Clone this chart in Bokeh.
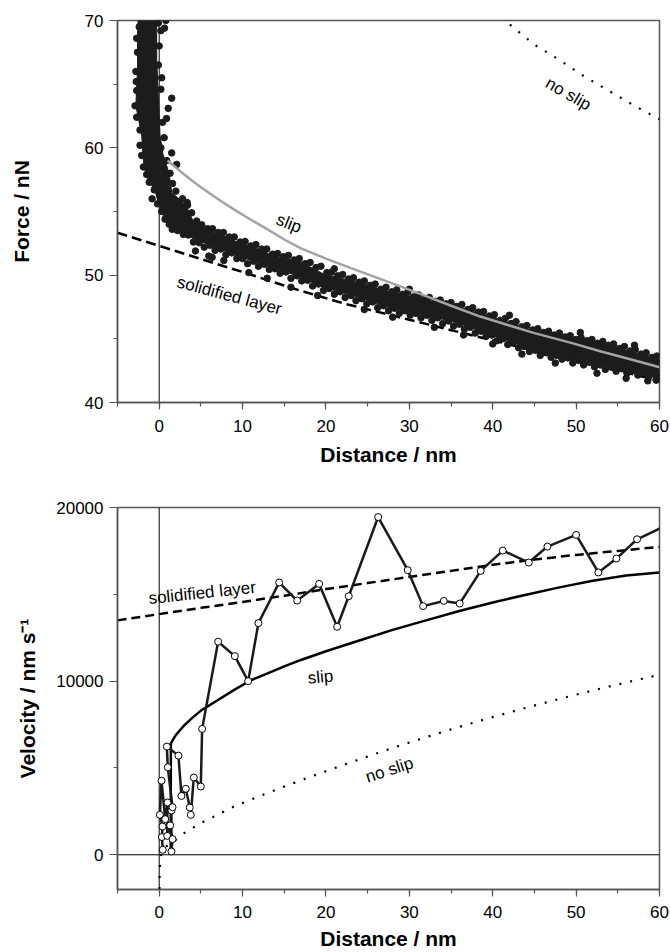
from bokeh.plotting import figure
from bokeh.layouts import column
from bokeh.models import Range1d, Span, SingleIntervalTicker, BasicTickFormatter
from bokeh.embed import file_html
from bokeh.resources import INLINE
from bokeh.core.properties import value

FONT = "Liberation Sans"

# ---------------- data: force vs distance (top panel) ----------------
# outline of the dense core of the measured force cloud
cloud_core_x = [-2.5, -2.6, -2.6, -2.8, -2.1, -1.9, -1.7, -1.3, -0.5, -0.1, 0.6, 1.4, 3.2, 4.0,
                5.75, 7.35, 9.35, 11.35, 13.75, 16.9, 19.7, 23.7, 27.7, 31.7, 35.8, 38.5, 45.3,
                53.3, 60.0, 60.0, 59.7, 53.3, 45.3, 38.5, 35.8, 31.7, 27.7, 23.7, 19.7, 16.9,
                13.75, 11.35, 9.35, 7.35, 5.75, 4.0, 3.2, 1.5, 1.3, 1.0, 0.45, 0.1, -0.1, -0.3, -0.3]
cloud_core_f = [70.6, 68.8, 66.3, 63.3, 61.0, 59.0, 58.2, 57.5, 56.6, 55.7, 54.5, 54.0, 53.25, 52.9,
                52.45, 52.05, 51.5, 51.1, 50.6, 49.85, 49.05, 48.3, 47.45, 46.9, 46.25, 45.6, 44.05,
                42.9, 42.1, 43.35, 43.4, 44.6, 45.55, 47.0, 47.5, 48.1, 48.7, 49.45, 50.1, 51.05,
                51.5, 52.2, 52.6, 53.2, 53.5, 54.35, 55.5, 56.5, 57.5, 58.4, 59.5, 61.0, 64.0, 67.0, 70.6]

# individual measured points at the fringes of the cloud
force_x = [
    # near-contact steep part, left / lower fringe
    -2.9, -2.7, -2.8, -2.6, -2.7, -2.4, -2.75, -2.7, -2.3, -2.3, -2.1, -1.9, -1.5, -1.2,
    -0.85, -0.6, -0.2, 0.3, 0.7, 1.2, 1.56, 1.9,
    # lower fringe of the band
    2.2, 2.9, 3.5, 4.1, 4.8, 5.4, 6.1, 6.7, 7.4, 8.0, 8.7, 9.3, 10.0, 10.6, 11.3, 11.9, 12.6,
    13.2, 13.9, 14.5, 15.2, 15.8, 16.5, 17.1, 17.8, 18.4, 19.1, 19.7, 20.4, 21.0, 21.7, 22.3,
    23.0, 23.6, 24.3, 24.9, 25.6, 26.2, 26.9, 27.5, 28.2, 28.8, 29.5, 30.1, 30.8, 31.4, 32.1,
    32.7, 33.4, 34.0, 34.7, 35.3, 36.0, 36.6, 37.3, 37.9, 38.6, 39.2, 39.9, 40.5, 41.2, 41.8,
    42.5, 43.1, 43.8, 44.4, 45.1, 45.7, 46.4, 47.0, 47.7, 48.3, 49.0, 49.6, 50.3, 50.9, 51.6,
    52.2, 52.9, 53.5, 54.2, 54.8, 55.5, 56.1, 56.8, 57.4, 58.1, 58.7, 59.4, 59.9,
    # stray points below the band
    4.35, 5.95, 6.35, 7.75, 10.75, 12.95, 15.8, 19.0, 24.6, 28.0, 33.0, 36.5, 40.0, 43.5,
    47.5, 52.5, 56.0, 58.6, 59.6,
    # steep part, right / upper fringe
    -0.1, 0.2, 0.0, -0.1, 0.3, 0.2, 0.4, 0.6, 0.2, 0.9, 1.3, 1.6, 2.0, 2.8, 2.5,
    # upper fringe of the band
    3.4, 3.9, 4.5, 5.1, 5.8, 6.4, 7.1, 7.7, 8.4, 9.0, 9.7, 10.3, 11.0, 11.6, 12.3, 12.9, 13.6,
    14.2, 14.9, 15.5, 16.2, 16.8, 17.5, 18.1, 18.8, 19.4, 20.1, 20.7, 21.4, 22.0, 22.7, 23.3,
    24.0, 24.6, 25.3, 25.9, 26.6, 27.2, 27.9, 28.5, 29.2, 29.8, 30.5, 31.1, 31.8, 32.4, 33.1,
    33.7, 34.4, 35.0, 35.7, 36.3, 37.0, 37.6, 38.3, 38.9, 39.6, 40.2, 40.9, 41.5, 42.2, 42.8,
    43.5, 44.1, 44.8, 45.4, 46.1, 46.7, 47.4, 48.0, 48.7, 49.3, 50.0, 50.6, 51.3, 51.9, 52.6,
    53.2, 53.9, 54.5, 55.2, 55.8, 56.5, 57.1, 57.8, 58.4, 59.1, 59.7,
    # stray points above the band
    3.36, 2.1, 1.5, 1.5, 1.08, 0.88, 0.64, 0.8, 21.0, 30.0, 42.0, 50.5, 57.0]
force_f = [
    63.3, 64.5, 66.0, 67.5, 68.6, 69.5, 65.2, 62.4, 61.4, 60.2, 59.4, 58.5, 57.9, 57.3,
    56.0, 56.7, 55.6, 55.0, 54.4, 54.0, 53.6, 53.9,
    53.5, 53.2, 53.15, 52.6, 52.55, 52.2, 52.35, 51.95, 52.05, 51.6, 51.75, 51.3, 51.3, 50.9,
    51.1, 50.7, 50.85, 50.45, 50.5, 50.15, 50.25, 49.75, 49.95, 49.55, 49.6, 49.15, 49.3, 48.8,
    48.95, 48.5, 48.7, 48.25, 48.4, 48.0, 48.15, 47.75, 47.9, 47.45, 47.6, 47.2, 47.4, 47.0,
    47.2, 46.85, 47.0, 46.65, 46.85, 46.45, 46.65, 46.2, 46.4, 46.0, 46.15, 45.75, 45.9, 45.45,
    45.6, 45.2, 45.3, 44.85, 45.0, 44.55, 44.75, 44.3, 44.4, 44.0, 44.1, 43.7, 43.9, 43.55,
    43.7, 43.4, 43.5, 43.1, 43.3, 42.95, 43.15, 42.8, 42.95, 42.6, 42.8, 42.45, 42.65, 42.3,
    42.5, 42.15, 42.35, 42.0, 42.2, 41.95,
    51.9, 51.5, 51.4, 51.15, 50.2, 49.76, 49.05, 48.4, 47.3, 46.7, 45.9, 45.3, 44.6, 43.8,
    43.1, 42.3, 41.9, 41.7, 41.75,
    69.8, 69.2, 68.0, 66.5, 65.5, 64.6, 62.0, 60.8, 60.0, 59.0, 58.0, 57.2, 56.6, 56.0, 55.3,
    55.5, 54.9, 54.25, 53.95, 53.65, 53.65, 53.35, 53.35, 53.0, 53.0, 52.6, 52.65, 52.3, 52.4,
    52.05, 52.05, 51.65, 51.7, 51.45, 51.55, 51.2, 51.3, 50.9, 51.0, 50.6, 50.7, 50.2, 50.25,
    49.95, 50.05, 49.7, 49.8, 49.45, 49.55, 49.2, 49.3, 48.9, 49.05, 48.7, 48.85, 48.5, 48.65,
    48.3, 48.45, 48.1, 48.25, 47.95, 48.05, 47.75, 47.85, 47.55, 47.7, 47.3, 47.45, 47.1, 47.15,
    46.8, 46.9, 46.45, 46.6, 46.2, 46.35, 45.95, 46.05, 45.7, 45.8, 45.5, 45.6, 45.3, 45.45,
    45.15, 45.25, 44.95, 45.1, 44.85, 44.95, 44.65, 44.8, 44.5, 44.6, 44.25, 44.4, 44.05, 44.15,
    43.8, 43.9, 43.55, 43.65,
    55.7, 58.7, 59.6, 63.9, 63.1, 62.3, 69.4, 70.0, 50.5, 48.9, 46.85, 45.5, 44.5]

slip_x = [1.0, 2, 3, 4, 5, 6, 7.35, 9, 11, 13, 15, 17, 20, 23, 26, 29, 32, 35, 38.5, 42, 45, 49.3, 53, 56.5, 60]
slip_f = [59.0, 58.45, 57.9, 57.4, 56.9, 56.45, 55.85, 55.15, 54.35, 53.6, 52.8, 52.1, 51.3, 50.55,
          49.83, 49.1, 48.35, 47.6, 46.75, 46.05, 45.45, 44.7, 44.0, 43.4, 42.77]

noslip_x = [40, 42, 45, 48, 51, 54, 57, 60]
noslip_f = [70.75, 69.7, 68.1, 66.9, 65.6, 64.45, 63.3, 62.25]

solid_x = [-5, 0, 5, 10, 16, 22, 30, 38, 45, 52, 60]
solid_f = [53.33, 52.3, 51.27, 50.25, 48.97, 47.8, 46.5, 45.2, 44.08, 42.95, 41.73]

# ---------------- data: velocity vs distance (bottom panel) ----------------
vel_x = [0.43, 0.32, 0.40, 0.08, 0.28, 0.72, 1.0, 0.96, 1.32, 1.6, 1.47, 1.47, 1.6, 1.03, 0.92,
         2.31, 2.67, 3.19, 3.67, 3.79, 4.15, 4.99, 5.15, 7.07, 9.07, 10.67, 11.9, 14.39, 16.55,
         19.18, 21.34, 22.73, 26.26, 29.81, 31.65, 34.13, 36.04, 38.56, 41.2, 44.32, 46.56,
         50.0, 52.67, 54.83, 57.31, 61.0]
vel_v = [290, 1020, 1630, 2300, 4270, 2050, 3010, 1090, 1690, 900, 190, 2550, 2740, 5040, 6230,
         5710, 3390, 3800, 2720, 2300, 4450, 3930, 7250, 12270, 11440, 10000, 13340, 15680, 14640,
         15600, 13130, 14890, 19450, 16390, 14320, 14620, 14470, 16350, 17520, 16830, 17750,
         18420, 16260, 17060, 18170, 19020]

vslip_x = [1.38, 1.4, 2, 3, 4, 5, 7, 9, 11, 13, 15, 17, 20, 24, 28, 32, 36, 40, 44, 48, 52, 56, 60]
vslip_v = [0, 6420, 6900, 7450, 7900, 8300, 8900, 9500, 10050, 10450, 10850, 11220, 11720, 12340,
           12950, 13500, 14040, 14530, 14980, 15400, 15780, 16080, 16250]

vnoslip_x = [0.02, 0.05, 0.1, 0.3, 0.7, 1.2, 1.75, 3, 4.95, 7, 8.95, 12.95, 16.5, 20.5, 24.5,
             28.5, 32.5, 36.5, 40.5, 44.5, 48.5, 52.5, 56.5, 60]
vnoslip_v = [-2600, -1200, -400, 150, 420, 620, 770, 1250, 1820, 2300, 2780, 3550, 4200, 4900,
             5580, 6230, 6850, 7440, 8000, 8530, 9040, 9520, 9980, 10370]

vsolid_x = [-5, 0, 5, 10, 15, 20, 25, 30, 35, 40, 45, 50, 55, 60]
vsolid_v = [13500, 13860, 14220, 14560, 14920, 15300, 15650, 16000, 16350, 16700, 17000, 17270, 17500, 17730]

x_ticks_interval = 10

top_label_text = ["slip", "no slip", "solidified layer"]
top_label_x = [15.56, 49.07, 8.43]
top_label_y = [54.06, 64.23, 48.4]
top_label_angle = [-22, -30, -15]

bot_label_text = ["solidified layer", "slip", "no slip"]
bot_label_x = [5.16, 19.34, 27.6]
bot_label_y = [15080, 10235, 4890]
bot_label_angle = [6, 5, 18]

AX = "#555555"


def style(p, y_interval, title_standoff, x_label_standoff, x_title_standoff):
    p.xaxis.ticker = SingleIntervalTicker(interval=x_ticks_interval, num_minor_ticks=2)
    p.yaxis.ticker = SingleIntervalTicker(interval=y_interval, num_minor_ticks=2)
    p.yaxis.formatter = BasicTickFormatter(use_scientific=False)
    p.xgrid.visible = False
    p.ygrid.visible = False
    p.outline_line_color = AX
    p.outline_line_width = 1.5
    for ax in (p.xaxis, p.yaxis):
        ax.axis_line_color = AX
        ax.axis_line_width = 1.5
        ax.major_tick_line_color = AX
        ax.minor_tick_line_color = AX
        ax.major_tick_line_width = 1.2
        ax.minor_tick_line_width = 1.2
        ax.major_tick_in = 0
        ax.minor_tick_in = 0
        ax.major_label_text_font = FONT
        ax.major_label_text_font_size = "17px"
        ax.major_label_text_color = "black"
        ax.axis_label_text_font = FONT
        ax.axis_label_text_font_size = "21px"
        ax.axis_label_text_font_style = "bold"
        ax.axis_label_text_color = "black"
    p.xaxis.major_tick_out = 7
    p.xaxis.minor_tick_out = 4
    p.yaxis.major_tick_out = 8
    p.yaxis.minor_tick_out = 4
    p.xaxis.major_label_standoff = x_label_standoff
    p.yaxis.major_label_standoff = 6
    p.yaxis.axis_label_standoff = title_standoff
    p.xaxis.axis_label_standoff = x_title_standoff


W = 670
# ---------------- top panel ----------------
p1 = figure(width=W, height=480, output_backend="svg", toolbar_location=None,
            x_range=Range1d(-5, 60), y_range=Range1d(40, 70),
            min_border_left=117, min_border_right=11, min_border_top=20, min_border_bottom=78,
            x_axis_label="Distance / nm", y_axis_label="Force / nN")
style(p1, 10, 49, 10, 8)
p1.add_layout(Span(location=0, dimension="height", line_color="black", line_width=1, level="underlay"))
p1.line(solid_x, solid_f, line_color="black", line_width=2.5, line_dash="10 5")
p1.line(noslip_x, noslip_f, line_color="black", line_width=2.2, line_dash="2 9")
p1.patch(cloud_core_x, cloud_core_f, fill_color="#1c1c1c", line_color="#1c1c1c", line_width=1)
p1.scatter(force_x, force_f, size=6.5, fill_color="#1c1c1c", line_color="#1c1c1c")
p1.line(slip_x, slip_f, line_color="#a3a3a3", line_width=2.5)
p1.text(top_label_x, top_label_y, text=top_label_text, angle=top_label_angle, angle_units="deg",
        text_font=value(FONT), text_font_size="17px", text_align="center",
        text_baseline="middle", text_color="black")

# ---------------- bottom panel ----------------
p2 = figure(width=W, height=472, output_backend="svg", toolbar_location=None,
            x_range=Range1d(-5, 60), y_range=Range1d(-2000, 20000),
            min_border_left=117, min_border_right=11, min_border_top=27, min_border_bottom=63,
            x_axis_label="Distance / nm", y_axis_label="Velocity / nm s\u207b\u00b9")
style(p2, 10000, 14, 9, 6)
p2.add_layout(Span(location=0, dimension="height", line_color="black", line_width=1, level="underlay"))
p2.add_layout(Span(location=0, dimension="width", line_color="black", line_width=1, level="underlay"))
p2.line(vsolid_x, vsolid_v, line_color="black", line_width=2.5, line_dash="9 5")
p2.line(vnoslip_x, vnoslip_v, line_color="black", line_width=2.2, line_dash="2 9")
p2.line(vslip_x, vslip_v, line_color="black", line_width=2.5)
p2.line(vel_x, vel_v, line_color="#1a1a1a", line_width=2.5)
p2.scatter(vel_x, vel_v, size=7, fill_color="white", line_color="black", line_width=1)
p2.text(bot_label_x, bot_label_y, text=bot_label_text, angle=bot_label_angle, angle_units="deg",
        text_font=value(FONT), text_font_size="17px", text_align="center",
        text_baseline="middle", text_color="black")

layout = column(p1, p2, spacing=0)
open("out.html", "w").write(file_html(layout, INLINE))
